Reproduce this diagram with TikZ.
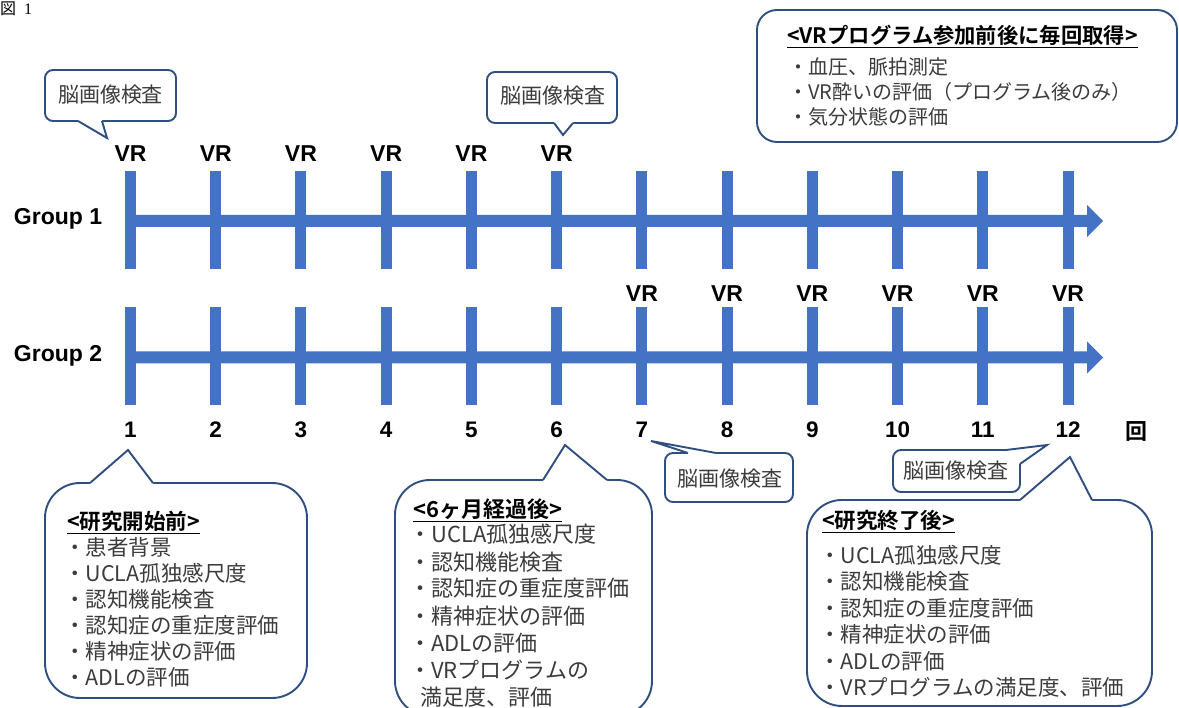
\documentclass[tikz,border=0pt]{standalone}
\usepackage{fontspec}
\setmainfont{Liberation Sans}
\newfontfamily\jp{Noto Sans CJK JP}[BoldFont={Noto Sans CJK JP Bold}]
\newfontfamily\lsans{Liberation Sans}
\newfontfamily\lserif{Liberation Serif}
\newcommand\fsz[1]{\fontsize{#1}{#1}\selectfont}
\definecolor{barblue}{HTML}{4472C4}
\definecolor{edgeblue}{HTML}{2F4F80}
\definecolor{txtgray}{HTML}{3C3C3C}
\tikzset{
  lab/.style={font=\lsans\bfseries\fsz{23}, inner sep=0pt, anchor=base},
  num/.style={font=\lsans\bfseries\fsz{22.5}, inner sep=0pt, anchor=base},
  bubble/.style={draw=edgeblue, line width=1.9pt, fill=white},
  ptr/.style={draw=edgeblue, line width=1.9pt, line join=miter},
  smalltxt/.style={font=\jp\fsz{21}, text=txtgray, inner sep=0pt},
  ttl/.style={font=\jp\bfseries\fsz{#1}, text=black, inner sep=0pt, anchor=base west},
  itm/.style={font=\jp\fsz{#1}, text=txtgray, inner sep=0pt, anchor=base west},
  barfill/.style={fill=barblue, draw=none},
}
\begin{document}
\begin{tikzpicture}[x=1pt,y=-1pt]
\useasboundingbox (0,0) rectangle (1179,708);
\clip (0,0) rectangle (1179,708);
\fill[white] (0,0) rectangle (1179,708);

% figure label
\node[anchor=base west, inner sep=0pt] (fig) at (0,15) {\jp\fsz{16}図\hspace{8pt}\lserif\fsz{16}1};

% timelines
\fill[barfill] (125,215) -- (1087,215) -- (1087,205) -- (1103,221) -- (1087,237) -- (1087,227) -- (125,227) -- cycle;
\fill[barfill] (125,351.5) -- (1087,351.5) -- (1087,341.5) -- (1103,357.5) -- (1087,373.5) -- (1087,363.5) -- (125,363.5) -- cycle;
\foreach \i in {1,...,12}{
  \pgfmathsetmacro\xx{130.5+85.23*(\i-1)}
  \fill[barfill] (\xx-5.5,171) rectangle (\xx+5.5,269);
  \fill[barfill] (\xx-5.5,307) rectangle (\xx+5.5,405);
  \node[num] (n\i) at (\xx,438) {\i};
}
\foreach \i in {1,...,6}{
  \pgfmathsetmacro\xx{130.5+85.23*(\i-1)}
  \node[lab] (vra\i) at (\xx,162) {VR};
}
\foreach \i in {7,...,12}{
  \pgfmathsetmacro\xx{130.5+85.23*(\i-1)}
  \node[lab] (vrb\i) at (\xx,302) {VR};
}
\node[lab] (g1) at (58,225) {Group 1};
\node[lab] (g2) at (58,362) {Group 2};
\node[font=\jp\bfseries\fsz{22}, inner sep=0pt, anchor=base] (kai) at (1136,440) {回};

% callout A
\draw[bubble, rounded corners=8pt] (45,70) rectangle (176,121);
\fill[white] (78,117) -- (78,121) -- (107,138) -- (102,121) -- (102,117) -- cycle;
\draw[ptr] (78,121) -- (107,138) -- (102,121);
\node[smalltxt] (brainA) at (110.5,95) {脳画像検査};

% callout B
\draw[bubble, rounded corners=8pt] (487,72) rectangle (617,123);
\fill[white] (554,119) -- (554,123) -- (563,135) -- (573,123) -- (573,119) -- cycle;
\draw[ptr] (554,123) -- (563,135) -- (573,123);
\node[smalltxt] (brainB) at (553,96) {脳画像検査};

% callout H (top right)
\draw[bubble, rounded corners=20pt] (757,10) rectangle (1177,142);
\node[ttl=21.3] (hT) at (787,44) {\underline{<VRプログラム参加前後に毎回取得>}};
\node[itm=20] (h1) at (788,75) {・血圧、脈拍測定};
\node[itm=20] (h2) at (788,100) {・VR酔いの評価（プログラム後のみ）};
\node[itm=20] (h3) at (788,125) {・気分状態の評価};

% callout E (bottom left)
\draw[bubble, rounded corners=35pt] (45,483) rectangle (307,698);
\fill[white] (90,487) -- (90,483) -- (128,450) -- (153,483) -- (153,487) -- cycle;
\draw[ptr] (90,483) -- (128,450) -- (153,483);
\node[ttl=21.5] (eT) at (67,530) {\underline{<研究開始前>}};
\node[itm=21.5] (e1) at (64,555) {・患者背景};
\node[itm=21.5] (e2) at (64,581) {・UCLA孤独感尺度};
\node[itm=21.5] (e3) at (64,607) {・認知機能検査};
\node[itm=21.5] (e4) at (64,633) {・認知症の重症度評価};
\node[itm=21.5] (e5) at (64,659) {・精神症状の評価};
\node[itm=21.5] (e6) at (64,685) {・ADLの評価};

% callout F (bottom middle)
\draw[bubble, rounded corners=35pt] (395,480) rectangle (652,716);
\fill[white] (543,484) -- (543,480) -- (565,445) -- (607,480) -- (607,484) -- cycle;
\draw[ptr] (543,480) -- (565,445) -- (607,480);
\node[ttl=22] (fT) at (413,518) {\underline{<6ヶ月経過後>}};
\node[itm=22] (f1) at (409,543) {・UCLA孤独感尺度};
\node[itm=22] (f2) at (409,570) {・認知機能検査};
\node[itm=22] (f3) at (409,597) {・認知症の重症度評価};
\node[itm=22] (f4) at (409,624) {・精神症状の評価};
\node[itm=22] (f5) at (409,651) {・ADLの評価};
\node[itm=22] (f6) at (409,678) {・VRプログラムの};
\node[itm=22] (f7) at (420,705) {満足度、評価};

% callout C
\draw[bubble, rounded corners=8pt] (665,453) rectangle (793,502);
\fill[white] (688,457) -- (688,453) -- (651,441) -- (716,453) -- (716,457) -- cycle;
\draw[ptr] (688,453) -- (651,441) -- (716,453);
\node[smalltxt] (brainC) at (730,479) {脳画像検査};

% callout G (bottom right)
\draw[bubble, rounded corners=35pt] (807,500) rectangle (1152,706);
\fill[white] (1020,504) -- (1020,500) -- (1070,457) -- (1092,500) -- (1092,504) -- cycle;
\draw[ptr] (1020,500) -- (1070,457) -- (1092,500);
\node[ttl=21.5] (gT) at (822,529) {\underline{<研究終了後>}};
\node[itm=21.5] (g1i) at (819,563) {・UCLA孤独感尺度};
\node[itm=21.5] (g2i) at (819,589) {・認知機能検査};
\node[itm=21.5] (g3i) at (819,616) {・認知症の重症度評価};
\node[itm=21.5] (g4i) at (819,642) {・精神症状の評価};
\node[itm=21.5] (g5i) at (819,669) {・ADLの評価};
\node[itm=21.5] (g6i) at (819,695) {・VRプログラムの満足度、評価};

% callout D
\draw[bubble, rounded corners=8pt] (893,450) rectangle (1020,492);
\fill[white] (1006,450) -- (1047,445) -- (1020,464) -- (1012,464) -- (1006,455) -- cycle;
\draw[ptr] (1006,450) -- (1047,445) -- (1020,464);
\node[smalltxt] (brainD) at (956,471) {脳画像検査};
\end{tikzpicture}
\end{document}
